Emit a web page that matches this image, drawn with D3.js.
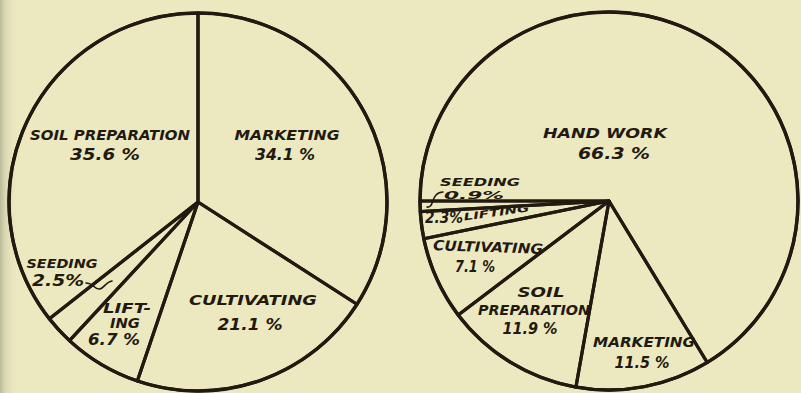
<!DOCTYPE html>
<html>
<head>
<meta charset="utf-8">
<script src="https://cdn.jsdelivr.net/npm/d3@7"></script>
<style>
  html, body { margin: 0; padding: 0; background: #ece8bf; }
  svg { display: block; }
</style>
</head>
<body>
<svg id="chart" width="801" height="393"></svg>
<script>
// ---- data ----
const leftCategories = ["MARKETING", "CULTIVATING", "LIFTING", "SEEDING", "SOIL PREPARATION"];
const leftValues = [34.1, 21.1, 6.7, 2.5, 35.6];

const rightCategories = ["HAND WORK", "MARKETING", "SOIL PREPARATION", "CULTIVATING", "LIFTING", "SEEDING"];
const rightValues = [66.3, 11.5, 11.9, 7.1, 2.3, 0.9];

// ---- layout (label placement relative to each pie centre) ----
const ink = "#221910";
const W = 801, H = 393;
const svg = d3.select("#chart");

// paper background with darker scanned left edge
const defs = svg.append("defs");
const g0 = defs.append("linearGradient").attr("id", "edge").attr("x1", 0).attr("x2", 1);
g0.append("stop").attr("offset", 0).attr("stop-color", "#a9a98c").attr("stop-opacity", 0.75);
g0.append("stop").attr("offset", 0.3).attr("stop-color", "#c4c3a4").attr("stop-opacity", 0.45);
g0.append("stop").attr("offset", 1).attr("stop-color", "#ece8bf").attr("stop-opacity", 0);
svg.append("rect").attr("width", W).attr("height", H).attr("fill", "#ece8bf");
svg.append("rect").attr("width", 18).attr("height", H).attr("fill", "url(#edge)");

const pies = [
  {
    cats: leftCategories, vals: leftValues, cx: 198, cy: 202, r: 189, start: 0,
    labels: {
      "MARKETING":        [{t: "MARKETING", dx: 89, dy: -62, w: 105}, {pct: " %", dx: 87, dy: -42, w: 60}],
      "CULTIVATING":      [{t: "CULTIVATING", dx: 55, dy: 103, w: 128}, {pct: " %", dx: 52, dy: 128, w: 65}],
      "LIFTING":          [{t: "LIFT-", dx: -71, dy: 111, w: 48}, {t: "ING", dx: -73, dy: 126, w: 30}, {pct: " %", dx: -84, dy: 143, w: 52}],
      "SEEDING":          [{t: "SEEDING", dx: -136, dy: 66, w: 71, fs: 12}, {pct: "%", dx: -140, dy: 84, w: 52}],
      "SOIL PREPARATION": [{t: "SOIL PREPARATION", dx: -88, dy: -62, w: 160}, {pct: " %", dx: -93, dy: -42, w: 70}]
    },
    leaders: [ "M-112,81 C-104,81 -104,88 -98,87 C-94,86 -92,80 -86,79" ]
  },
  {
    cats: rightCategories, vals: rightValues, cx: 609, cy: 201, r: 189, start: -Math.PI / 2,
    labels: {
      "HAND WORK":        [{t: "HAND WORK", dx: -4, dy: -63, w: 124}, {pct: " %", dx: 5, dy: -42, w: 72, fs: 16.5}],
      "MARKETING":        [{t: "MARKETING", dx: 35, dy: 146, w: 102}, {pct: " %", dx: 33, dy: 167, w: 55}],
      "SOIL PREPARATION": [{t: "SOIL", dx: -68, dy: 96, w: 47}, {t: "PREPARATION", dx: -75, dy: 114, w: 112}, {pct: " %", dx: -79, dy: 133, w: 55}],
      "CULTIVATING":      [{t: "CULTIVATING", dx: -121, dy: 51, w: 110, rot: 2}, {pct: " %", dx: -134, dy: 71, w: 40}],
      "LIFTING":          [{pct: "%", dx: -165, dy: 22, w: 38}, {t: "LIFTING", dx: -112, dy: 15, w: 66, fs: 10, rot: -8}],
      "SEEDING":          [{t: "SEEDING", dx: -129, dy: -15, w: 80, fs: 11}, {pct: "%", dx: -135, dy: -2, w: 60, fs: 10}]
    },
    leaders: [ "M-182,6 C-176,7 -177,-2 -173,-6 C-171,-8 -169,-9 -166,-9" ]
  }
];

pies.forEach(p => {
  const g = svg.append("g").attr("transform", `translate(${p.cx},${p.cy})`);
  const pie = d3.pie().sort(null).value(d => d.v)
    .startAngle(p.start).endAngle(p.start + 2 * Math.PI);
  const data = p.cats.map((c, i) => ({c, v: p.vals[i]}));
  const arcs = pie(data);
  const arc = d3.arc().innerRadius(0).outerRadius(p.r);

  g.selectAll("path.slice").data(arcs).join("path")
    .attr("class", "slice")
    .attr("d", arc)
    .attr("fill", "none")
    .attr("stroke", ink)
    .attr("stroke-width", 3.2)
    .attr("stroke-linejoin", "round");

  g.append("circle").attr("r", p.r).attr("fill", "none")
    .attr("stroke", ink).attr("stroke-width", 3.4);

  // labels
  arcs.forEach(a => {
    const lines = p.labels[a.data.c] || [];
    lines.forEach(L => {
      const txt = L.pct !== undefined ? `${a.data.v}${L.pct}` : L.t;
      const fs = L.fs || (L.pct !== undefined ? 15.5 : 14);
      const t = g.append("text")
        .attr("x", L.dx).attr("y", L.dy)
        .attr("text-anchor", "middle")
        .attr("font-family", "'DejaVu Sans', sans-serif")
        .attr("font-weight", "bold")
        .attr("font-style", "italic")
        .attr("font-size", fs)
        .attr("fill", ink)
        .attr("textLength", L.w)
        .attr("lengthAdjust", "spacingAndGlyphs")
        .text(txt);
      if (L.rot) t.attr("transform", `rotate(${L.rot},${L.dx},${L.dy})`);
    });
  });

  p.leaders.forEach(d => {
    g.append("path").attr("d", d).attr("fill", "none")
      .attr("stroke", ink).attr("stroke-width", 1.6).attr("stroke-linecap", "round");
  });
});
</script>
</body>
</html>
